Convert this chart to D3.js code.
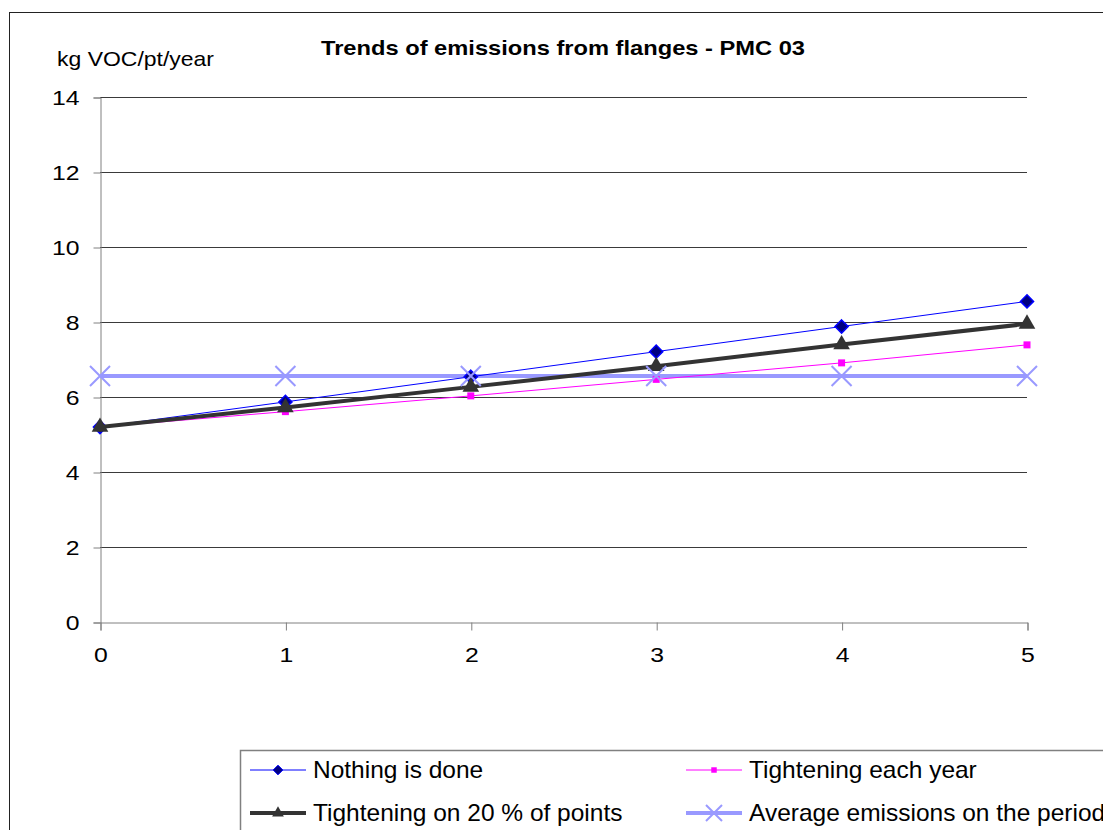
<!DOCTYPE html>
<head>
  <meta charset="utf-8">
  <script src="https://d3js.org/d3.v7.min.js"></script>
  <style>
    body { margin: 0; background: #fff; }
    text { font-family: "Liberation Sans", Arial, sans-serif; fill: #000; }
  </style>
</head>
<body>
<svg width="1103" height="830"></svg>

<script type="text/javascript">

// years on the x axis
var years = [0, 1, 2, 3, 4, 5];

// one list per scenario
var nothingDone      = [5.2, 5.87, 6.54, 7.21, 7.88, 8.55];
var tighteningYearly = [5.2, 5.61, 6.03, 6.47, 6.91, 7.39];
var tightening20     = [5.2, 5.72, 6.27, 6.82, 7.40, 7.95];
var averagePeriod    = [6.56, 6.56, 6.56, 6.56, 6.56, 6.56];

var yTicks = [0, 2, 4, 6, 8, 10, 12, 14];
var seriesNames = ["Nothing is done", "Tightening each year",
                   "Tightening on 20 % of points", "Average emissions on the period"];

var svg = d3.select("svg");

// outer chart frame (runs off the right and bottom of the picture)
svg.append("rect")
    .attr("x", 9.5).attr("y", 12.5)
    .attr("width", 1200).attr("height", 900)
    .style("fill", "none").style("stroke", "#222").style("stroke-width", 1);

var x = d3.scaleLinear().domain([0, 5]).range([100, 1027]);
var y = d3.scaleLinear().domain([0, 14]).range([622, 97]);

// gridlines
svg.selectAll("line.grid")
    .data(yTicks.slice(1))
  .enter()
  .append("line")
    .attr("class", "grid")
    .attr("x1", 100).attr("x2", 1027)
    .attr("y1", function(d) { return Math.round(y(d)) + 0.5; })
    .attr("y2", function(d) { return Math.round(y(d)) + 0.5; })
    .style("stroke", "#3a3a3a").style("stroke-width", 1);

// y axis  (the source text is a bit stretched sideways, hence the scale)
var yAxis = svg.append("g")
    .attr("transform", "translate(100.5,0.5)")
    .call(d3.axisLeft(y).tickValues(yTicks).tickSize(7).tickPadding(14).tickFormat(d3.format("d")));
yAxis.select(".domain").style("stroke", "#808080");
yAxis.selectAll(".tick line").style("stroke", "#808080");
yAxis.selectAll("text")
    .style("font-size", "21px")
    .attr("dy", "0.35em")
    .attr("x", 0)
    .attr("transform", "translate(-21,0) scale(1.18,1)");

// x axis
var xAxis = svg.append("g")
    .attr("transform", "translate(0.5,622.5)")
    .call(d3.axisBottom(x).tickValues(years).tickSize(8).tickPadding(17).tickFormat(d3.format("d")));
xAxis.select(".domain").style("stroke", "#808080");
xAxis.selectAll(".tick line").style("stroke", "#808080");
xAxis.selectAll("text")
    .style("font-size", "21px")
    .attr("transform", "scale(1.18,1)");

// title and unit
svg.append("text")
    .attr("x", 563).attr("y", 55)
    .attr("text-anchor", "middle")
    .style("font-size", "21px").style("font-weight", "bold")
    .attr("textLength", 484).attr("lengthAdjust", "spacingAndGlyphs")
    .text("Trends of emissions from flanges - PMC 03");

svg.append("text")
    .attr("x", 57).attr("y", 66)
    .style("font-size", "21px")
    .attr("textLength", 157).attr("lengthAdjust", "spacingAndGlyphs")
    .text("kg VOC/pt/year");

var line = d3.line()
    .x(function(d, i) { return x(years[i]); })
    .y(function(d) { return y(d); });

var diamond = d3.symbol().type(d3.symbolDiamond2);
var square = d3.symbol().type(d3.symbolSquare);
var triangle = d3.symbol().type(d3.symbolTriangle);

// average line first, the others run over it
svg.append("path").datum(averagePeriod).attr("d", line)
    .style("fill", "none").style("stroke", "#9999ff").style("stroke-width", 4);

svg.append("path").datum(nothingDone).attr("d", line)
    .style("fill", "none").style("stroke", "#0000ff").style("stroke-width", 1);
svg.selectAll("path.dia")
    .data(nothingDone)
  .enter()
  .append("path")
    .attr("class", "dia")
    .attr("d", diamond.size(110))
    .attr("transform", function(d, i) { return "translate(" + x(years[i]) + "," + y(d) + ")"; })
    .style("fill", "#000080").style("stroke", "#0000ff").style("stroke-width", 1.5);

svg.append("path").datum(tighteningYearly).attr("d", line)
    .style("fill", "none").style("stroke", "#ff00ff").style("stroke-width", 1);
svg.selectAll("path.sq")
    .data(tighteningYearly)
  .enter()
  .append("path")
    .attr("class", "sq")
    .attr("d", square.size(49))
    .attr("transform", function(d, i) { return "translate(" + x(years[i]) + "," + y(d) + ")"; })
    .style("fill", "#ff00ff");

svg.append("path").datum(tightening20).attr("d", line)
    .style("fill", "none").style("stroke", "#333333").style("stroke-width", 4);
svg.selectAll("path.tri")
    .data(tightening20)
  .enter()
  .append("path")
    .attr("class", "tri")
    .attr("d", triangle.size(120))
    .attr("transform", function(d, i) { return "translate(" + x(years[i]) + "," + y(d) + ")"; })
    .style("fill", "#333333");

// X markers of the average on top
svg.selectAll("path.cross")
    .data(averagePeriod)
  .enter()
  .append("path")
    .attr("class", "cross")
    .attr("d", "M-10,-10L10,10M-10,10L10,-10")
    .attr("transform", function(d, i) { return "translate(" + x(years[i]) + "," + y(d) + ")"; })
    .style("fill", "none").style("stroke", "#9999ff").style("stroke-width", 2);

// legend box (runs off the picture too)
svg.append("rect")
    .attr("x", 240.5).attr("y", 750.5)
    .attr("width", 900).attr("height", 200)
    .style("fill", "#fff").style("stroke", "#808080").style("stroke-width", 1.5);

var legendItems = [
  { name: seriesNames[0], col: 0, row: 0, color: "#0000ff", width: 1, marker: "diamond" },
  { name: seriesNames[1], col: 1, row: 0, color: "#ff00ff", width: 1, marker: "square" },
  { name: seriesNames[2], col: 0, row: 1, color: "#333333", width: 4, marker: "triangle" },
  { name: seriesNames[3], col: 1, row: 1, color: "#9999ff", width: 4, marker: "cross" }
];

var lg = svg.selectAll("g.leg")
    .data(legendItems)
  .enter()
  .append("g")
    .attr("class", "leg")
    .attr("transform", function(d) { return "translate(" + (d.col ? 686 : 250) + "," + (d.row ? 813 : 770) + ")"; });

lg.append("line")
    .attr("x1", 0).attr("x2", 56)
    .style("stroke", function(d) { return d.color; })
    .style("stroke-width", function(d) { return d.width; });

lg.append("path")
    .attr("transform", "translate(28,0)")
    .attr("d", function(d) {
      if (d.marker == "diamond") return diamond.size(60)();
      if (d.marker == "square") return square.size(30)();
      if (d.marker == "triangle") return triangle.size(60)();
      return "M-8,-8L8,8M-8,8L8,-8";
    })
    .style("fill", function(d) { return d.marker == "diamond" ? "#000080" : (d.marker == "cross" ? "none" : d.color); })
    .style("stroke", function(d) { return d.marker == "diamond" ? "#0000ff" : (d.marker == "cross" ? d.color : "none"); })
    .style("stroke-width", function(d) { return d.marker == "cross" ? 2 : 1; });

lg.append("text")
    .attr("transform", "translate(63,8) scale(1.065,1)")
    .style("font-size", "23px")
    .text(function(d) { return d.name; });
</script>

</body>
</html>
